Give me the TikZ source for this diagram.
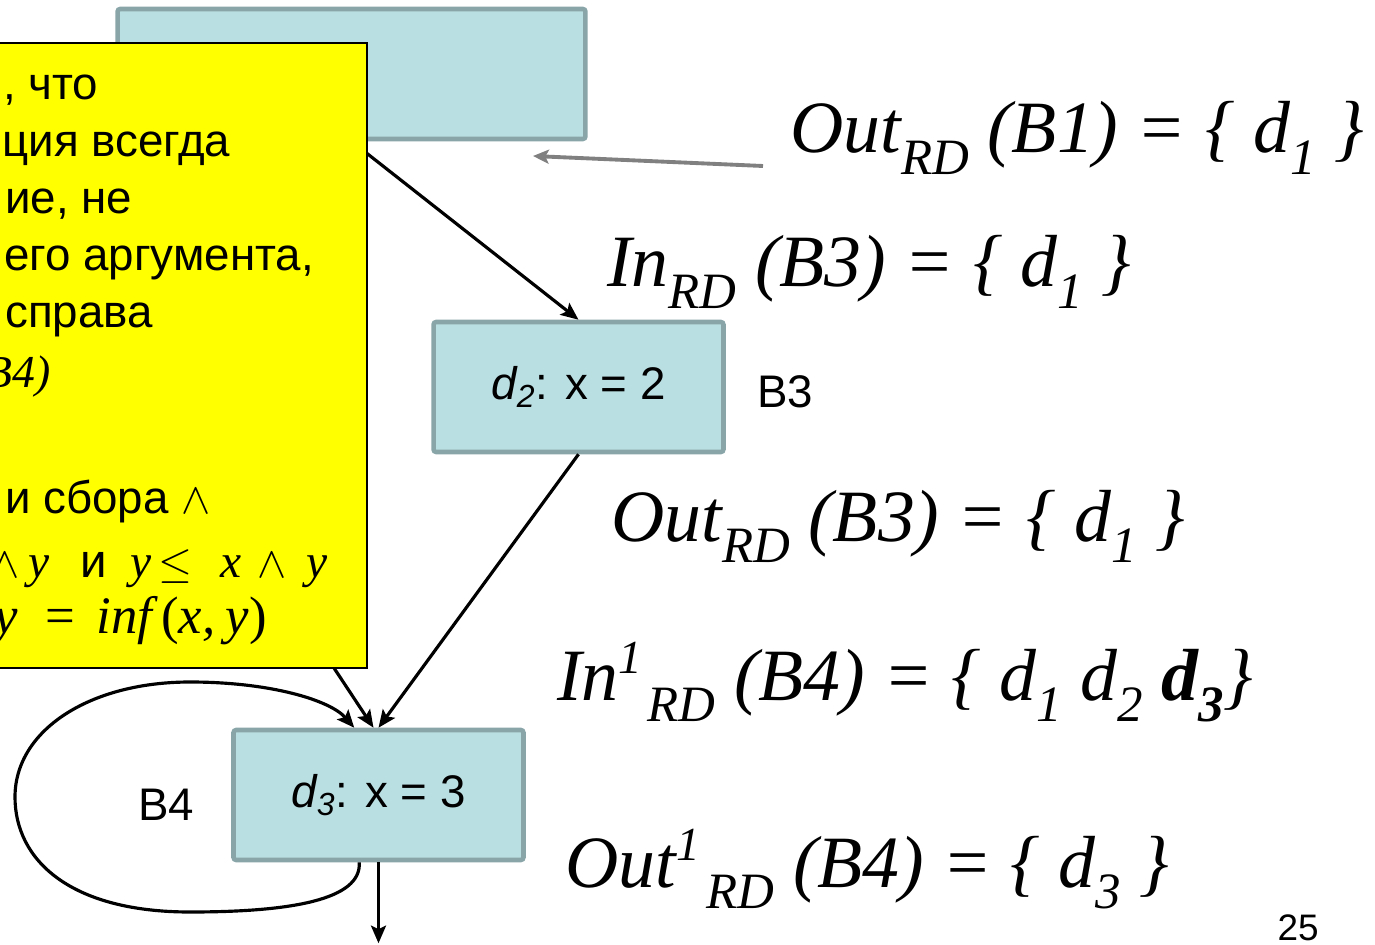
\documentclass[tikz,border=0pt]{standalone}
\usepackage{fontspec}
\setmainfont{Liberation Serif}
\setsansfont{Liberation Sans}
\usetikzlibrary{positioning,arrows.meta,calc}
\definecolor{blkfill}{RGB}{186,223,226}
\definecolor{blkedge}{RGB}{137,165,168}
\definecolor{notefill}{RGB}{255,255,0}
\newcommand{\lo}[1]{\raisebox{-12.5pt}{\fontsize{29}{29}\selectfont #1}}
\newcommand{\hi}[1]{\raisebox{15pt}{\fontsize{27}{27}\selectfont #1}}
\newcommand{\sfsize}{\fontsize{26}{30}\selectfont}

\begin{document}
\begin{tikzpicture}[x=0.02cm,y=-0.02cm,
  blk/.style={draw=blkedge,fill=blkfill,line width=2.6pt,rounded corners=1.5pt,
    minimum width=5.8cm,minimum height=2.6cm,font=\sffamily\sfsize,inner sep=0pt},
  flow/.style={line width=1.8pt,-{Stealth[length=10pt,width=8.5pt,inset=2pt]}},
  ptr/.style={gray,line width=2.2pt,-{Stealth[length=9pt,width=8pt,inset=2pt]}},
  lbl/.style={font=\sffamily\sfsize,inner sep=0pt},
  eqn/.style={anchor=base west,inner sep=0pt,font=\rmfamily\itshape\fontsize{42}{48}\selectfont},
  ln/.style={anchor=base west,inner sep=0pt,font=\sffamily\sfsize}]
\useasboundingbox (0,0) rectangle (1375,945);
% blocks
\node[blk,minimum width=9.36cm] (b1) at (351.5,74) {};
\node[blk] (b3) at (578.5,387) {\raisebox{-4pt}{{\itshape d\textsubscript{2}}: x = 2}};
\node[blk] (b4) at (378.5,795) {\raisebox{-4pt}{{\itshape d\textsubscript{3}}: x = 3}};
\node[lbl,right=0.62cm of b3,yshift=-0.1cm] (lb3) {B3};
\node[lbl,left=0.74cm of b4,yshift=-0.2cm] (lb4) {B4};
% edges (partly under the note)
\coordinate (b2out) at (289,600);
\draw[flow] (b1.south) -- (b3.north);
\draw[flow] (b2out) -- ([xshift=-0.1cm]b4.north);
\draw[flow] (b3.south) -- (b4.north);
\draw[flow] ($(b4.south west)+(128,0)$) .. controls (362,900) and (290,912) .. (190,912)
  .. controls (70,912) and (15,860) .. (15,797)
  .. controls (15,730) and (90,682) .. (190,682)
  .. controls (270,682) and (330,700) .. ($(b4.north west)+(123,0)$);
\draw[flow] (b4.south) -- ++(0,81);
% note
\node[draw=black,fill=notefill,line width=1pt,minimum width=7.5cm,minimum height=12.5cm,
  anchor=north east,inner sep=0pt] (note) at (368,42) {};
\foreach \yy/\xx/\txt [count=\i] in {
100/3/{, что},
157/2/{ция всегда},
214/5/{ие, не},
271/4/{его аргумента,},
328/5/{справа},
388/-16/{\rmfamily\itshape\fontsize{26}{28}\selectfont B4)},
513/5/{и сбора $\wedge$},
577/-10/{\fontsize{27}{28}\selectfont$\wedge$\hspace{5pt}\rmfamily\itshape y\hspace{18pt}\sffamily\upshape и\hspace{13pt}\rmfamily\itshape y$\,\leq$\hspace{16pt}x\hspace{9pt}$\wedge$\hspace{11pt}y},
633/-6/{\rmfamily\fontsize{30}{32}\selectfont\itshape y\hspace{16pt}\upshape=\hspace{12pt}\itshape inf\hspace{5pt}\upshape(\itshape x,\hspace{6pt}y\upshape)}}
  \node[ln] (ln\i) at (\xx,\yy) {\txt};
% sets
\coordinate (ptrtail) at (763,166);
\coordinate (ptrtip) at (533,156);
\draw[ptr] (ptrtail) -- (ptrtip);
\node[eqn] (eq1) at (790,153) {Out\lo{RD} (B1) = \{ d\lo{1} \}};
\node[eqn] (eq2) at (607,287) {In\lo{RD} (B3) = \{ d\lo{1} \}};
\node[eqn] (eq3) at (611,541) {Out\lo{RD} (B3) = \{ d\lo{1} \}};
\node[eqn] (eq4) at (557,700) {In\hi{1}\hspace{3pt}\lo{RD} (B4) = \{ d\lo{1} d\lo{2} \textbf{d\lo{3}}\}};
\node[eqn] (eq5) at (565,887) {Out\hi{1}\hspace{4pt}\lo{RD} (B4) = \{ d\lo{3} \}};
\node[font=\sffamily\fontsize{21}{24}\selectfont,inner sep=0pt] (pg) at (1298,928) {25};
\end{tikzpicture}
\end{document}
